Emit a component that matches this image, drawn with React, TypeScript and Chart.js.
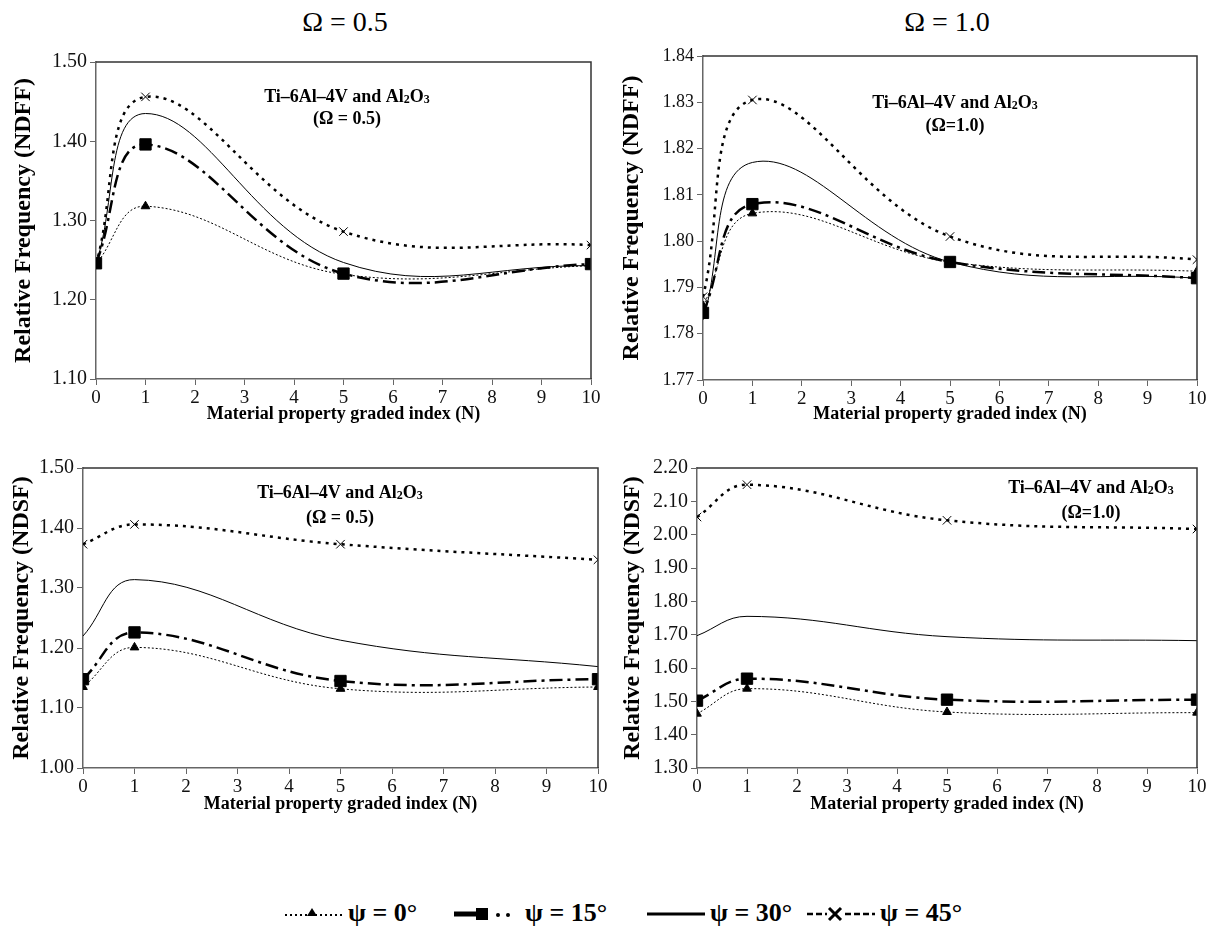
import React, { useEffect, useRef } from "react";
import { Chart, registerables } from "chart.js";

Chart.register(...registerables);

// ---------- DATA ----------
const N_INDEX = [0, 1, 5, 10];
const PSI_LABELS = ["ψ = 0°", "ψ = 15°", "ψ = 30°", "ψ = 45°"];

// NDFF, Ω = 0.5
const NDFF_05_PSI0 = [1.245, 1.318, 1.232, 1.243];
const NDFF_05_PSI15 = [1.246, 1.396, 1.233, 1.245];
const NDFF_05_PSI30 = [1.245, 1.435, 1.247, 1.243];
const NDFF_05_PSI45 = [1.245, 1.456, 1.286, 1.269];

// NDFF, Ω = 1.0
const NDFF_10_PSI0 = [1.786, 1.806, 1.7955, 1.7935];
const NDFF_10_PSI15 = [1.7845, 1.808, 1.7955, 1.792];
const NDFF_10_PSI30 = [1.783, 1.817, 1.7955, 1.792];
const NDFF_10_PSI45 = [1.788, 1.8305, 1.801, 1.796];

// NDSF, Ω = 0.5
const NDSF_05_PSI0 = [1.135, 1.201, 1.132, 1.135];
const NDSF_05_PSI15 = [1.148, 1.226, 1.145, 1.148];
const NDSF_05_PSI30 = [1.22, 1.314, 1.213, 1.169];
const NDSF_05_PSI45 = [1.373, 1.406, 1.373, 1.347];

// NDSF, Ω = 1.0
const NDSF_10_PSI0 = [1.463, 1.538, 1.468, 1.466];
const NDSF_10_PSI15 = [1.502, 1.568, 1.505, 1.505];
const NDSF_10_PSI30 = [1.697, 1.755, 1.694, 1.682];
const NDSF_10_PSI45 = [2.053, 2.15, 2.043, 2.017];

const OMEGA_TITLES = ["Ω = 0.5", "Ω = 1.0"];
const X_TITLE = "Material property graded index (N)";
const Y_TITLE_NDFF = "Relative Frequency (NDFF)";
const Y_TITLE_NDSF = "Relative Frequency (NDSF)";
const NOTE_LINE1 = ["Ti–6Al–4V and Al", "2", "O", "3"];

// ---------- STYLES ----------
const SERIF = '"Liberation Serif", "Times New Roman", serif';

const SERIES_STYLES: any[] = [
  { borderColor: "#000", borderWidth: 1, borderDash: [2, 2], pointStyle: "triangle", pointRadius: 5, pointBackgroundColor: "#000", pointBorderColor: "#000", pointBorderWidth: 1 },
  { borderColor: "#000", borderWidth: 2.5, borderDash: [13, 5, 3, 5], pointStyle: "rect", pointRadius: 8, pointBackgroundColor: "#000", pointBorderColor: "#000", pointBorderWidth: 1 },
  { borderColor: "#000", borderWidth: 1, borderDash: [], pointRadius: 0 },
  { borderColor: "#000", borderWidth: 2.5, borderDash: [3, 5], pointStyle: "crossRot", pointRadius: 6, pointBackgroundColor: "#000", pointBorderColor: "#000", pointBorderWidth: 1 },
];

const boxPlugin = {
  id: "box",
  afterDraw(chart: any) {
    const { ctx, chartArea: a } = chart;
    ctx.save();
    ctx.strokeStyle = "#333";
    ctx.lineWidth = 1.5;
    ctx.beginPath();
    ctx.moveTo(a.left, a.top);
    ctx.lineTo(a.right, a.top);
    ctx.lineTo(a.right, a.bottom);
    ctx.stroke();
    ctx.restore();
  },
};

function makeNotePlugin(cx: number, y1: number, y2: number, line2: string) {
  return {
    id: "note",
    afterDraw(chart: any) {
      const ctx = chart.ctx;
      ctx.save();
      ctx.fillStyle = "#000";
      ctx.textBaseline = "middle";
      const segs = [
        { t: NOTE_LINE1[0], s: 18, dy: 0 },
        { t: NOTE_LINE1[1], s: 12, dy: 3 },
        { t: NOTE_LINE1[2], s: 18, dy: 0 },
        { t: NOTE_LINE1[3], s: 12, dy: 3 },
      ];
      let total = 0;
      segs.forEach((g) => {
        ctx.font = `bold ${g.s}px ${SERIF}`;
        total += ctx.measureText(g.t).width;
      });
      let x = cx - total / 2;
      ctx.textAlign = "left";
      segs.forEach((g) => {
        ctx.font = `bold ${g.s}px ${SERIF}`;
        ctx.fillText(g.t, x, y1 + g.dy);
        x += ctx.measureText(g.t).width;
      });
      ctx.font = `bold 18px ${SERIF}`;
      ctx.textAlign = "center";
      ctx.fillText(line2, cx, y2);
      ctx.restore();
    },
  };
}

type PanelProps = {
  left: number; top: number; width: number; height: number;
  series: number[][];
  yMin: number; yMax: number; yStep: number;
  yTitle: string;
  yAxisW: number; xAxisH: number; padTop: number; padRight: number;
  yTitlePad: number; tickFont: number;
  note: { cx: number; y1: number; y2: number; line2: string };
};

function Panel(p: PanelProps) {
  const ref = useRef<HTMLCanvasElement>(null);
  useEffect(() => {
    const chart = new Chart(ref.current as HTMLCanvasElement, {
      type: "line",
      data: {
        datasets: p.series.map((vals, i) => ({
          label: PSI_LABELS[i],
          data: N_INDEX.map((x, j) => ({ x, y: vals[j] })),
          tension: 0.4,
          fill: false,
          ...SERIES_STYLES[i],
        })),
      },
      options: {
        animation: false,
        responsive: false,
        maintainAspectRatio: false,
        layout: { padding: { left: 0, top: p.padTop, right: p.padRight, bottom: 0 } },
        plugins: { legend: { display: false }, tooltip: { enabled: false } },
        scales: {
          x: {
            type: "linear",
            min: 0,
            max: 10,
            ticks: { stepSize: 1, color: "#111", font: { family: SERIF, size: 19 }, padding: 2, maxRotation: 0 },
            grid: { drawOnChartArea: false, tickLength: 6, color: "#666" },
            border: { color: "#666", width: 1.5 },
            title: { display: true, text: X_TITLE, color: "#000", font: { family: SERIF, size: 18, weight: "bold" }, padding: { top: 4, bottom: 0 } },
            afterFit: (s: any) => { s.height = p.xAxisH; s.paddingLeft = 0; s.paddingRight = 0; },
          },
          y: {
            type: "linear",
            min: p.yMin,
            max: p.yMax,
            ticks: { stepSize: p.yStep, color: "#111", font: { family: SERIF, size: p.tickFont }, padding: 3, callback: (v: any) => Number(v).toFixed(2) },
            grid: { drawOnChartArea: false, tickLength: 6, color: "#666" },
            border: { color: "#666", width: 1.5 },
            title: { display: true, text: p.yTitle, color: "#000", font: { family: SERIF, size: 24, weight: "bold" }, padding: { top: p.yTitlePad, bottom: 0 } },
            afterFit: (s: any) => { s.width = p.yAxisW; s.paddingTop = 0; s.paddingBottom = 0; },
          },
        },
      } as any,
      plugins: [boxPlugin, makeNotePlugin(p.note.cx, p.note.y1, p.note.y2, p.note.line2)],
    });
    return () => chart.destroy();
  }, []);
  return (
    <canvas
      ref={ref}
      width={p.width}
      height={p.height}
      style={{ position: "absolute", left: p.left, top: p.top, width: p.width, height: p.height }}
    />
  );
}

function LegendSample({ kind }: { kind: number }) {
  if (kind === 0)
    return (
      <svg width="64" height="20" style={{ display: "block" }}>
        <line x1="2" y1="12" x2="62" y2="12" stroke="#000" strokeWidth="2" strokeDasharray="2 3" />
        <polygon points="24,13 34,13 29,5" fill="#000" />
      </svg>
    );
  if (kind === 1)
    return (
      <svg width="70" height="20" style={{ display: "block" }}>
        <line x1="2" y1="11" x2="30" y2="11" stroke="#000" strokeWidth="5" />
        <rect x="24" y="5" width="12" height="12" fill="#000" />
        <circle cx="46" cy="12" r="2" fill="#000" />
        <circle cx="56" cy="12" r="2" fill="#000" />
      </svg>
    );
  if (kind === 2)
    return (
      <svg width="62" height="20" style={{ display: "block" }}>
        <line x1="2" y1="11" x2="60" y2="11" stroke="#000" strokeWidth="3" />
      </svg>
    );
  return (
    <svg width="72" height="20" style={{ display: "block" }}>
      <line x1="2" y1="11" x2="22" y2="11" stroke="#000" strokeWidth="2.5" strokeDasharray="6 3" />
      <line x1="24" y1="5" x2="36" y2="17" stroke="#000" strokeWidth="3" />
      <line x1="36" y1="5" x2="24" y2="17" stroke="#000" strokeWidth="3" />
      <line x1="40" y1="11" x2="70" y2="11" stroke="#000" strokeWidth="2.5" strokeDasharray="6 3" />
    </svg>
  );
}

const LEGEND_SAMPLE_X = [283, 452, 645, 805];
const LEGEND_TEXT_X = [348, 525, 710, 880];

export default function App() {
  return (
    <div style={{ position: "absolute", left: 0, top: 0, width: 1216, height: 935, background: "#fff", overflow: "hidden" }}>
      <div style={{ position: "absolute", left: 245, top: 6, width: 200, textAlign: "center", font: `28px ${SERIF}`, lineHeight: "32px" }}>{OMEGA_TITLES[0]}</div>
      <div style={{ position: "absolute", left: 847, top: 6, width: 200, textAlign: "center", font: `28px ${SERIF}`, lineHeight: "32px" }}>{OMEGA_TITLES[1]}</div>

      <Panel left={0} top={45} width={600} height={380}
        series={[NDFF_05_PSI0, NDFF_05_PSI15, NDFF_05_PSI30, NDFF_05_PSI45]}
        yMin={1.1} yMax={1.5} yStep={0.1} yTitle={Y_TITLE_NDFF}
        yAxisW={96} xAxisH={46} padTop={17} padRight={8} yTitlePad={9} tickFont={20}
        note={{ cx: 347, y1: 52, y2: 74, line2: "(Ω = 0.5)" }} />
      <Panel left={600} top={35} width={616} height={390}
        series={[NDFF_10_PSI0, NDFF_10_PSI15, NDFF_10_PSI30, NDFF_10_PSI45]}
        yMin={1.77} yMax={1.84} yStep={0.01} yTitle={Y_TITLE_NDFF}
        yAxisW={103} xAxisH={45} padTop={21} padRight={19} yTitlePad={17} tickFont={18}
        note={{ cx: 355, y1: 68, y2: 91, line2: "(Ω=1.0)" }} />
      <Panel left={0} top={435} width={610} height={380}
        series={[NDSF_05_PSI0, NDSF_05_PSI15, NDSF_05_PSI30, NDSF_05_PSI45]}
        yMin={1.0} yMax={1.5} yStep={0.1} yTitle={Y_TITLE_NDSF}
        yAxisW={83} xAxisH={47} padTop={33} padRight={12} yTitlePad={7} tickFont={20}
        note={{ cx: 340, y1: 58, y2: 83, line2: "(Ω = 0.5)" }} />
      <Panel left={600} top={435} width={616} height={380}
        series={[NDSF_10_PSI0, NDSF_10_PSI15, NDSF_10_PSI30, NDSF_10_PSI45]}
        yMin={1.3} yMax={2.2} yStep={0.1} yTitle={Y_TITLE_NDSF}
        yAxisW={97} xAxisH={47} padTop={33} padRight={19} yTitlePad={18} tickFont={20}
        note={{ cx: 491, y1: 53, y2: 78, line2: "(Ω=1.0)" }} />

      {PSI_LABELS.map((lab, i) => (
        <React.Fragment key={i}>
          <div style={{ position: "absolute", left: LEGEND_SAMPLE_X[i], top: 903 }}>
            <LegendSample kind={i} />
          </div>
          <div style={{ position: "absolute", left: LEGEND_TEXT_X[i], top: 895, font: `bold 26px ${SERIF}`, lineHeight: "36px", whiteSpace: "nowrap" }}>
            {lab}
          </div>
        </React.Fragment>
      ))}
    </div>
  );
}
